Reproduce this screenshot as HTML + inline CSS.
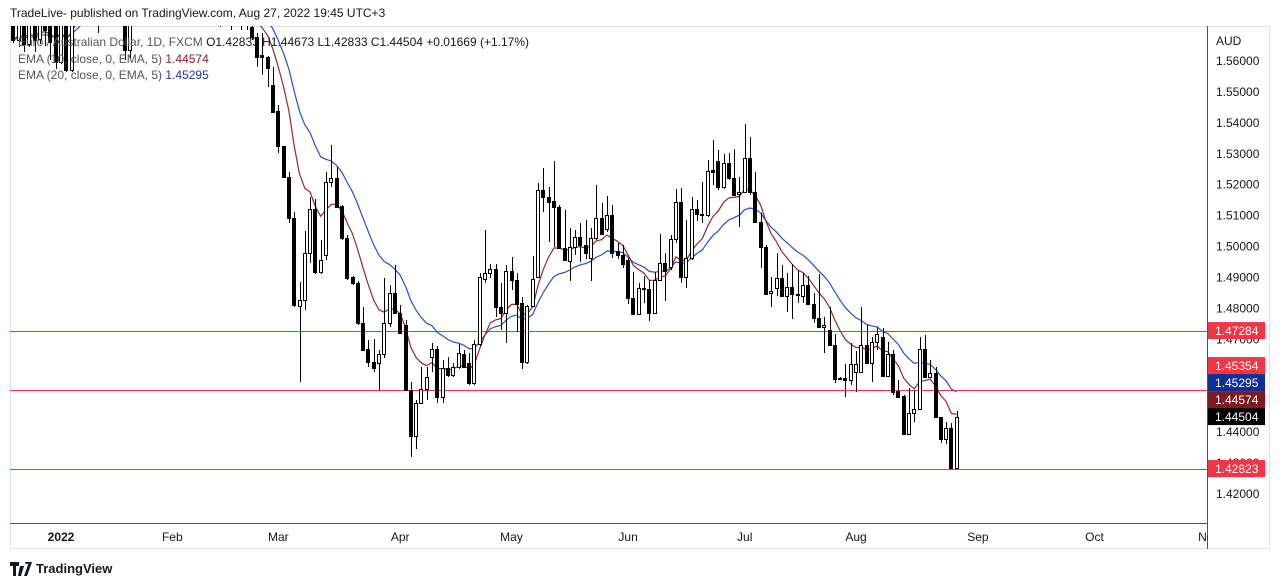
<!DOCTYPE html>
<html><head><meta charset="utf-8">
<style>
html,body{margin:0;padding:0;background:#fff;width:1280px;height:587px;overflow:hidden;font-family:"Liberation Sans",sans-serif;}
#hdr{position:absolute;left:10px;top:6px;font-size:12px;color:#131722;}
#foot{position:absolute;left:10px;top:561px;font-size:13px;font-weight:bold;color:#131722;display:flex;align-items:center;gap:4px;}
svg{position:absolute;left:0;top:0;}
.leg{font-size:12px;fill:#555;}
</style></head>
<body>
<div id="hdr">TradeLive- published on TradingView.com, Aug 27, 2022 19:45 UTC+3</div>
<svg id="chart" width="1280" height="587">
<defs><clipPath id="pc"><rect x="10" y="26" width="1197" height="497"/></clipPath></defs>
<rect x="10.5" y="26.5" width="1259" height="522" fill="none" stroke="#e0e3eb"/>
<line x1="1207.5" y1="26" x2="1207.5" y2="549" stroke="#50535e"/>
<line x1="10" y1="523.5" x2="1207" y2="523.5" stroke="#50535e"/>
<g id="marks" clip-path="url(#pc)"></g>
<g id="axes"></g>
<g id="legend">
<text class="leg" x="18" y="46">Euro / Australian Dollar, 1D, FXCM <tspan fill="#131722">O1.42833 H1.44673 L1.42833 C1.44504 +0.01669 (+1.17%)</tspan></text>
<text class="leg" x="18" y="63">EMA (10, close, 0, EMA, 5) <tspan fill="#8b1e24">1.44574</tspan></text>
<text class="leg" x="18" y="79">EMA (20, close, 0, EMA, 5) <tspan fill="#1c3aa0">1.45295</tspan></text>
</g>
<g id="badges"></g>
</svg>
<div id="foot"><svg width="22" height="14" style="position:static"><path d="M0 0h9v4H6v10H3V4H0z M10 4h4l-3 10H8z M15 0a2 2 0 1 1 0 .1z M14 14l5-14h3l-5 14z" fill="#131722"/></svg>TradingView</div>
<script>
const startIdx = -9;
const opens = [1.585,1.5668,1.575,1.5655,1.575,1.567,1.580,1.575,1.578,1.5597,1.585,1.5571,1.580,1.586,1.588,1.584,1.579,1.582,1.590,1.594,1.589,1.585,1.5636,1.585,1.588,1.591,1.587,1.583,1.586,1.590,1.588,1.584,1.580,1.585,1.582,1.579,1.583,1.578,1.580,1.576,1.579,1.575,1.578,1.574,1.577,
1.5710,1.5677,1.5619,1.5613,1.5522,1.5439,1.5325,1.5225,1.5093,1.4809,
1.4828,1.4980,1.5122,1.4918,1.4973,1.5209,1.5222,1.5132,1.5028,1.4902,
1.4883,1.4754,1.4670,1.4628,1.4625,1.4654,1.4754,1.4851,1.4786,1.4747,
1.4537,1.4386,1.4495,1.4541,1.4644,1.4670,1.4515,1.4608,1.4586,1.4612,
1.4654,1.4625,1.4560,1.4686,1.4896,1.4915,1.4928,1.4805,1.4786,1.4922,
1.4893,1.4818,1.4628,1.4809,1.4902,1.5183,1.5161,1.5148,1.5128,1.4996,
1.4954,1.4999,1.5031,1.5006,1.4964,1.5028,1.5093,1.5057,1.5103,1.4986,
1.4973,1.4957,1.4835,1.4783,1.4867,1.4864,1.4786,1.4893,1.4947,1.4935,
1.5025,1.5145,1.4902,1.4964,1.5122,1.5106,1.5103,1.5248,1.5277,1.5193,
1.5270,1.5222,1.5170,1.5177,1.5287,1.5177,1.5080,1.4999,1.4851,1.4867,
1.4899,1.4841,1.4870,1.4847,1.4841,1.4877,1.4815,1.4770,1.4741,1.4731,
1.4683,1.4576,1.4576,1.4570,1.4596,1.4596,1.4683,1.4625,1.4692,1.4708,
1.4583,1.4654,1.4534,1.4518,1.4395,1.4463,1.4476,1.4670,1.4579,1.4592,
1.4450,1.4379,1.4415,1.42833];
const highs = [1.590,1.578,1.580,1.577,1.580,1.578,1.585,1.582,1.583,1.584,1.590,1.585,1.590,1.594,1.596,1.590,1.586,1.592,1.598,1.600,1.595,1.590,1.588,1.592,1.596,1.599,1.593,1.590,1.594,1.597,1.594,1.590,1.588,1.592,1.588,1.586,1.590,1.585,1.587,1.584,1.585,1.583,1.584,1.581,1.582,
1.5716,1.5690,1.5690,1.5616,1.5581,1.5458,1.5325,1.5241,1.5112,1.4886,
1.5051,1.5161,1.5154,1.5022,1.5241,1.5329,1.5258,1.5135,1.5038,1.4906,
1.4889,1.4805,1.4699,1.4702,1.4667,1.4899,1.4876,1.4941,1.4812,1.4763,
1.4563,1.4505,1.4612,1.4612,1.4689,1.4680,1.4634,1.4644,1.4625,1.4686,
1.4667,1.4657,1.4699,1.4915,1.5054,1.4944,1.4944,1.4883,1.4941,1.4967,
1.4915,1.4838,1.4812,1.4970,1.5206,1.5254,1.5193,1.5277,1.5135,1.5119,
1.5061,1.5054,1.5077,1.5087,1.5061,1.5199,1.5141,1.5164,1.5135,1.5012,
1.5006,1.4964,1.4918,1.4883,1.4906,1.4893,1.4918,1.5041,1.4980,1.5038,
1.5187,1.5190,1.5087,1.5161,1.5151,1.5209,1.5280,1.5345,1.5313,1.5300,
1.5303,1.5316,1.5225,1.5396,1.5355,1.5241,1.5109,1.5006,1.4902,1.4980,
1.4941,1.4915,1.4944,1.4925,1.4915,1.4906,1.4851,1.4912,1.4773,1.4805,
1.4718,1.4579,1.4621,1.4689,1.4663,1.4805,1.4747,1.4708,1.4741,1.4738,
1.4692,1.4667,1.4570,1.4521,1.4544,1.4537,1.4708,1.4715,1.4634,1.4612,
1.4450,1.4434,1.4431,1.44673];
const lows = [1.5658,1.5645,1.5629,1.5645,1.5629,1.5655,1.5648,1.5603,1.5574,1.559,1.5564,1.5565,1.575,1.578,1.580,1.576,1.569,1.578,1.585,1.586,1.580,1.5603,1.5610,1.579,1.582,1.585,1.580,1.577,1.580,1.584,1.580,1.576,1.575,1.578,1.575,1.573,1.576,1.572,1.574,1.571,1.572,1.570,1.572,1.570,1.5700,
1.5668,1.5581,1.5555,1.5516,1.5432,1.5303,1.5222,1.5077,1.4805,1.4563,
1.4796,1.4947,1.4912,1.4912,1.4957,1.5193,1.5125,1.5022,1.4893,1.4876,
1.4747,1.4663,1.4612,1.4595,1.4537,1.4641,1.4741,1.4783,1.4718,1.4534,
1.4321,1.4344,1.4492,1.4505,1.4595,1.4495,1.4495,1.4579,1.4579,1.4605,
1.4608,1.4553,1.4553,1.4680,1.4883,1.4899,1.4773,1.4731,1.4689,1.4860,
1.4725,1.4605,1.4621,1.4805,1.4899,1.5112,1.5015,1.4999,1.4993,1.4957,
1.4889,1.4973,1.4951,1.4960,1.4889,1.5022,1.5038,1.5048,1.4964,1.4960,
1.4931,1.4815,1.4783,1.4780,1.4818,1.4760,1.4783,1.4889,1.4825,1.4925,
1.5012,1.4883,1.4867,1.4957,1.5083,1.5077,1.5096,1.5199,1.5183,1.5187,
1.5216,1.5167,1.5064,1.5174,1.5167,1.5077,1.4931,1.4847,1.4805,1.4841,
1.4838,1.4789,1.4767,1.4818,1.4818,1.4812,1.4754,1.4738,1.4657,1.4683,
1.4560,1.4570,1.4515,1.4553,1.4531,1.4592,1.4621,1.4563,1.4667,1.4579,
1.4579,1.4521,1.4515,1.4395,1.4395,1.4434,1.4473,1.4579,1.4576,1.4447,
1.4366,1.4363,1.4283,1.42833];
const closes = [1.5668,1.575,1.5655,1.572,1.5668,1.574,1.570,1.566,1.5597,1.579,1.5571,1.580,1.586,1.588,1.584,1.579,1.582,1.590,1.594,1.589,1.585,1.5636,1.585,1.588,1.591,1.587,1.583,1.586,1.590,1.588,1.584,1.580,1.585,1.582,1.579,1.583,1.578,1.580,1.576,1.579,1.575,1.578,1.574,1.577,1.5716,
1.5677,1.5613,1.5613,1.5577,1.5435,1.5325,1.5225,1.5093,1.4812,1.4828,
1.4980,1.5122,1.4918,1.4957,1.5209,1.5222,1.5128,1.5028,1.4899,1.4883,
1.4754,1.4667,1.4628,1.4608,1.4654,1.4754,1.4851,1.4786,1.4721,1.4537,
1.4386,1.4495,1.4541,1.4579,1.4670,1.4515,1.4608,1.4586,1.4612,1.4657,
1.4612,1.4560,1.4686,1.4902,1.4915,1.4928,1.4805,1.4786,1.4922,1.4893,
1.4815,1.4628,1.4809,1.4896,1.5183,1.5161,1.5145,1.5128,1.4996,1.4957,
1.4999,1.5031,1.5006,1.4980,1.5028,1.5093,1.5041,1.5103,1.4980,1.4973,
1.4944,1.4835,1.4783,1.4867,1.4864,1.4786,1.4893,1.4947,1.4922,1.5025,
1.5145,1.4902,1.4964,1.5122,1.5106,1.5103,1.5245,1.5241,1.5193,1.5270,
1.5222,1.5167,1.5177,1.5287,1.5177,1.5080,1.4999,1.4847,1.4857,1.4899,
1.4841,1.4870,1.4847,1.4847,1.4877,1.4815,1.4770,1.4741,1.4747,1.4683,
1.4573,1.4573,1.4570,1.4621,1.4621,1.4683,1.4625,1.4692,1.4718,1.4583,
1.4654,1.4531,1.4515,1.4395,1.4463,1.4476,1.4670,1.4579,1.4592,1.4450,
1.4379,1.4415,1.4283,1.44504];
const priceTicks = [1.42,1.43,1.44,1.45,1.46,1.47,1.48,1.49,1.50,1.51,1.52,1.53,1.54,1.55,1.56];
const monthLabels = ["2022","Feb","Mar","Apr","May","Jun","Jul","Aug","Sep","Oct","No"];
const monthIdx = [0,21,41,64,85,107,129,150,173,195,216];
const hLevels = [1.47284,1.45354,1.42823];
const badgeValues = [1.47284,1.45354,1.45295,1.44574,1.44504,1.42823];
const badgeColors = ["#f23645","#f23645","#0d2f97","#801922","#000000","#f23645"];

const NS="http://www.w3.org/2000/svg";
const yS = p => 61 + (1.56 - p) * 3093;
const xS = i => 61 + i * 5.3;
function mk(tag, attrs, parent){const e=document.createElementNS(NS,tag);for(const k in attrs)e.setAttribute(k,attrs[k]);parent.appendChild(e);return e;}
const marks=document.getElementById('marks'), axes=document.getElementById('axes'), badges=document.getElementById('badges');

hLevels.forEach(v=>{
  const l=mk('line',{x1:10,x2:1207,y1:Math.round(yS(v))+0.5,y2:Math.round(yS(v))+0.5,stroke:'#f23645','stroke-width':1},marks);
  
  
});

function ema(arr,n){const k=2/(n+1);const out=[];let e=arr[0];arr.forEach((v,i)=>{e=i===0?v:v*k+e*(1-k);out.push(e);});return out;}
const e10=ema(closes,10), e20=ema(closes,20);
[[e20,'#2a4fc0','ema20-line'],[e10,'#8e2a2f','ema10-line']].forEach(([s,c,n])=>{
  const d=s.map((v,k)=>(k?'L':'M')+xS(startIdx+k).toFixed(1)+' '+yS(v).toFixed(1)).join(' ');
  const p=mk('path',{d:d,fill:'none',stroke:c,'stroke-width':1.2},marks);
  
  
});

closes.forEach((c,k)=>{
  const x=Math.round(xS(startIdx+k));
  const o=opens[k],h=highs[k],l=lows[k];
  const g=mk('g',{},marks);
  
  
  mk('line',{x1:x+0.5,x2:x+0.5,y1:Math.round(yS(h)),y2:Math.round(yS(l)),stroke:'#000','stroke-width':1},g);
  const top=Math.round(yS(Math.max(o,c))), bot=Math.round(yS(Math.min(o,c)));
  const bull=c>=o;
  if(bull){
    mk('rect',{x:x-1.5,y:top+0.5,width:3,height:Math.max(1,bot-top),fill:'#fff',stroke:'#000','stroke-width':1},g);
  } else {
    mk('rect',{x:x-2,y:top,width:4,height:Math.max(1,bot-top+1),fill:'#000'},g);
  }
});

const aud=mk('text',{x:1216,y:45,'font-size':12,fill:'#131722'},axes);
aud.textContent='AUD';


priceTicks.forEach(p=>{
  const t=mk('text',{x:1216,y:yS(p)+4,'font-size':12,fill:'#131722'},axes);
  t.textContent=p.toFixed(5);
  
  
});
monthLabels.forEach((m,i)=>{
  const t=mk('text',{x:xS(monthIdx[i]),y:541,'font-size':12,fill:'#131722','text-anchor':'middle','font-weight':i===0?'bold':'normal'},axes);
  t.textContent=m;
  
  
});
mk('rect',{x:1208,y:524,width:61,height:24,fill:'#fff'},axes);

const H=17;
const ys=badgeValues.map(v=>yS(v));
const order=ys.map((y,i)=>i).sort((a,b)=>ys[b]-ys[a]);
const pos=[];let prev=1e9;
order.forEach(i=>{let y=Math.min(ys[i],prev-H);pos[i]=y;prev=y;});
badgeValues.forEach((v,i)=>{
  const cy=pos[i];
  const g=mk('g',{},badges);
  
  
  mk('rect',{x:1208,y:cy-H/2,width:57,height:H,fill:badgeColors[i]},g);
  const t=mk('text',{x:1215,y:cy+4.5,'font-size':12,fill:'#fff'},g);
  t.textContent=v.toFixed(5);
});
</script>
</body></html>
